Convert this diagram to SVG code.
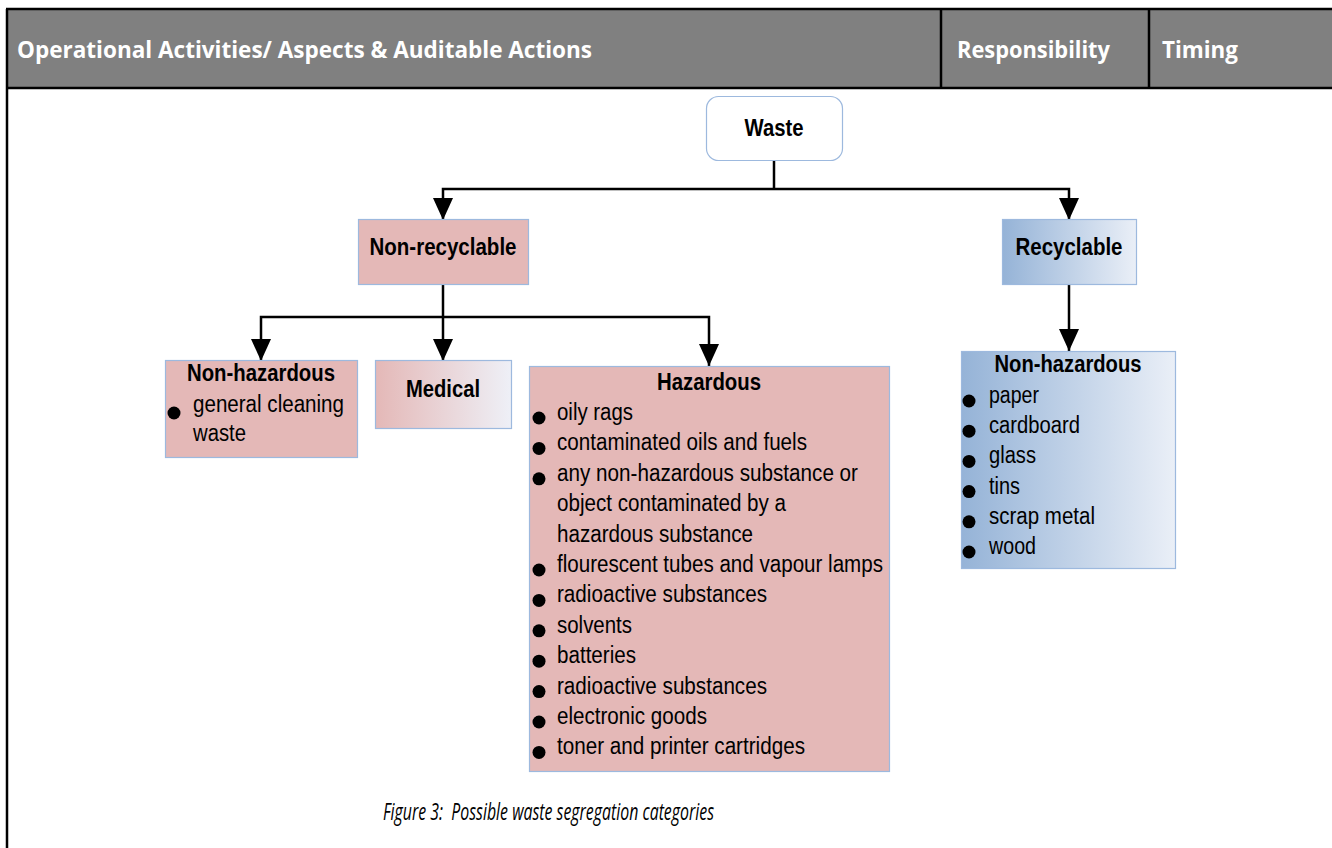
<svg xmlns="http://www.w3.org/2000/svg" width="1332" height="848" viewBox="0 0 1332 848">
  <defs>
    <linearGradient id="gradBlue" x1="0" y1="0" x2="1" y2="0">
      <stop offset="0" stop-color="#95B3D7"/>
      <stop offset="1" stop-color="#EAEFF7"/>
    </linearGradient>
    <linearGradient id="gradPink" x1="0" y1="0" x2="1" y2="0">
      <stop offset="0" stop-color="#E4B8B7"/>
      <stop offset="1" stop-color="#EEF0F7"/>
    </linearGradient>
    <marker id="arrow" viewBox="0 0 22 20" refX="22" refY="10" markerWidth="22" markerHeight="20" markerUnits="userSpaceOnUse" orient="auto-start-reverse">
      <path d="M0,0 L22,10 L0,20 z" fill="#000"/>
    </marker>
    <style>
      .rule { stroke: #000; stroke-width: 2.5; fill: none; }
      .hdr { fill: #ffffff; font-family: "Open Sans", "Liberation Sans", sans-serif; font-weight: bold; font-size: 24px; }
      .box { stroke: #9DB9DE; stroke-width: 1.2; }
      .pink { fill: #E4B8B7; }
      .lbl { font-family: "Liberation Sans Narrow", "Liberation Sans", Arial, sans-serif; font-weight: bold; font-size: 23px; fill: #000; text-anchor: middle; }
      .item { font-family: "Liberation Sans Narrow", "Liberation Sans", Arial, sans-serif; font-size: 23px; fill: #000; }
      .dot { fill: #000; }
      .conn { stroke: #000; stroke-width: 2.5; fill: none; }
      .caption { font-family: "Open Sans", "Liberation Sans", sans-serif; font-style: italic; font-size: 23px; fill: #000; }
    </style>
  </defs>

  <!-- table header row -->
  <g id="table-header">
    <rect x="7" y="9" width="1325" height="79" fill="#808080"/>
    <line class="rule" x1="6" y1="9" x2="1332" y2="9"/>
    <line class="rule" x1="6" y1="88" x2="1332" y2="88"/>
    <line class="rule" x1="7" y1="9" x2="7" y2="848"/>
    <line class="rule" x1="941" y1="9" x2="941" y2="88"/>
    <line class="rule" x1="1149" y1="9" x2="1149" y2="88"/>
    <text class="hdr" x="17" y="58" textLength="575" lengthAdjust="spacingAndGlyphs">Operational Activities/ Aspects &amp; Auditable Actions</text>
    <text class="hdr" x="957" y="58" textLength="153" lengthAdjust="spacingAndGlyphs">Responsibility</text>
    <text class="hdr" x="1162" y="58" textLength="76" lengthAdjust="spacingAndGlyphs">Timing</text>
  </g>

  <!-- connectors -->
  <g id="connectors">
    <path class="conn" d="M774,160 V189"/>
    <path class="conn" d="M443,220 V189 H1069 V220" marker-start="url(#arrow)" marker-end="url(#arrow)"/>
    <path class="conn" d="M1069,285 V351" marker-end="url(#arrow)"/>
    <path class="conn" d="M443,285 V317"/>
    <path class="conn" d="M261,361 V317 H709 V366" marker-start="url(#arrow)" marker-end="url(#arrow)"/>
    <path class="conn" d="M443,317 V361" marker-end="url(#arrow)"/>
  </g>

  <!-- root -->
  <g id="node-waste">
    <rect x="706.5" y="96.5" width="136" height="64" rx="12" ry="12" fill="#ffffff" class="box"/>
    <text class="lbl" x="774" y="136" textLength="59" lengthAdjust="spacingAndGlyphs">Waste</text>
  </g>

  <g id="node-non-recyclable">
    <rect x="358.5" y="219.5" width="170" height="65" class="box pink"/>
    <text class="lbl" x="443" y="255" textLength="147" lengthAdjust="spacingAndGlyphs">Non-recyclable</text>
  </g>

  <g id="node-recyclable">
    <rect x="1002.5" y="219.5" width="134" height="65" class="box" fill="url(#gradBlue)"/>
    <text class="lbl" x="1069" y="255" textLength="107" lengthAdjust="spacingAndGlyphs">Recyclable</text>
  </g>

  <g id="node-non-hazardous-general">
    <rect x="165.5" y="360.5" width="192" height="97" class="box pink"/>
    <text class="lbl" x="261" y="381" textLength="148" lengthAdjust="spacingAndGlyphs">Non-hazardous</text>
    <circle class="dot" cx="174" cy="413" r="6.5"/>
    <text class="item" x="193" y="412" textLength="151" lengthAdjust="spacingAndGlyphs">general cleaning</text>
    <text class="item" x="193" y="441" textLength="53" lengthAdjust="spacingAndGlyphs">waste</text>
  </g>

  <g id="node-medical">
    <rect x="375.5" y="360.5" width="136" height="68" class="box" fill="url(#gradPink)"/>
    <text class="lbl" x="443" y="397" textLength="74" lengthAdjust="spacingAndGlyphs">Medical</text>
  </g>

  <g id="node-hazardous">
    <rect x="529.5" y="366.5" width="360" height="405" class="box pink"/>
    <text class="lbl" x="709" y="390" textLength="104" lengthAdjust="spacingAndGlyphs">Hazardous</text>
    <g class="dot">
      <circle cx="539" cy="418" r="6.5"/>
      <circle cx="539" cy="448.4" r="6.5"/>
      <circle cx="539" cy="478.8" r="6.5"/>
      <circle cx="539" cy="570" r="6.5"/>
      <circle cx="539" cy="600.4" r="6.5"/>
      <circle cx="539" cy="630.8" r="6.5"/>
      <circle cx="539" cy="661.2" r="6.5"/>
      <circle cx="539" cy="691.6" r="6.5"/>
      <circle cx="539" cy="722" r="6.5"/>
      <circle cx="539" cy="752.4" r="6.5"/>
    </g>
    <text class="item" x="557" y="420" textLength="76" lengthAdjust="spacingAndGlyphs">oily rags</text>
    <text class="item" x="557" y="450.4" textLength="250" lengthAdjust="spacingAndGlyphs">contaminated oils and fuels</text>
    <text class="item" x="557" y="480.8" textLength="301" lengthAdjust="spacingAndGlyphs">any non-hazardous substance or</text>
    <text class="item" x="557" y="511.2" textLength="229" lengthAdjust="spacingAndGlyphs">object contaminated by a</text>
    <text class="item" x="557" y="541.6" textLength="196" lengthAdjust="spacingAndGlyphs">hazardous substance</text>
    <text class="item" x="557" y="572" textLength="326" lengthAdjust="spacingAndGlyphs">flourescent tubes and vapour lamps</text>
    <text class="item" x="557" y="602.4" textLength="210" lengthAdjust="spacingAndGlyphs">radioactive substances</text>
    <text class="item" x="557" y="632.8" textLength="75" lengthAdjust="spacingAndGlyphs">solvents</text>
    <text class="item" x="557" y="663.2" textLength="79" lengthAdjust="spacingAndGlyphs">batteries</text>
    <text class="item" x="557" y="693.6" textLength="210" lengthAdjust="spacingAndGlyphs">radioactive substances</text>
    <text class="item" x="557" y="724" textLength="150" lengthAdjust="spacingAndGlyphs">electronic goods</text>
    <text class="item" x="557" y="754.4" textLength="248" lengthAdjust="spacingAndGlyphs">toner and printer cartridges</text>
  </g>

  <g id="node-non-hazardous-recyclable">
    <rect x="961.5" y="351.5" width="214" height="217" class="box" fill="url(#gradBlue)"/>
    <text class="lbl" x="1068" y="372" textLength="147" lengthAdjust="spacingAndGlyphs">Non-hazardous</text>
    <g class="dot">
      <circle cx="969" cy="401" r="6.5"/>
      <circle cx="969" cy="431.2" r="6.5"/>
      <circle cx="969" cy="461.4" r="6.5"/>
      <circle cx="969" cy="491.6" r="6.5"/>
      <circle cx="969" cy="521.8" r="6.5"/>
      <circle cx="969" cy="552" r="6.5"/>
    </g>
    <text class="item" x="989" y="403" textLength="50" lengthAdjust="spacingAndGlyphs">paper</text>
    <text class="item" x="989" y="433.2" textLength="91" lengthAdjust="spacingAndGlyphs">cardboard</text>
    <text class="item" x="989" y="463.4" textLength="47" lengthAdjust="spacingAndGlyphs">glass</text>
    <text class="item" x="989" y="493.6" textLength="31" lengthAdjust="spacingAndGlyphs">tins</text>
    <text class="item" x="989" y="523.8" textLength="106" lengthAdjust="spacingAndGlyphs">scrap metal</text>
    <text class="item" x="989" y="554" textLength="47" lengthAdjust="spacingAndGlyphs">wood</text>
  </g>

  <!-- figure caption -->
  <text class="caption" x="383" y="820" xml:space="preserve" textLength="331" lengthAdjust="spacingAndGlyphs">Figure 3:  Possible waste segregation categories</text>
</svg>
